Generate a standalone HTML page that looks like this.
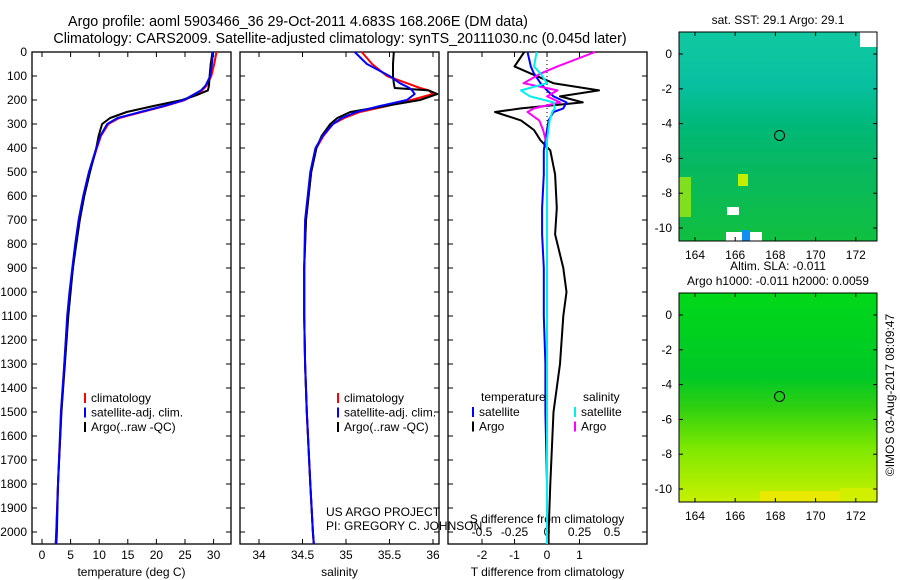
<!DOCTYPE html>
<html><head><meta charset="utf-8"><style>
body{margin:0;background:#fff;}
svg{display:block;font-family:"Liberation Sans",sans-serif;}
</style></head><body>
<svg id="chart" width="900" height="580" viewBox="0 0 900 580" xmlns="http://www.w3.org/2000/svg">
<text x="298" y="26" font-size="14.3" text-anchor="middle">Argo profile: aoml 5903466_36 29-Oct-2011 4.683S 168.206E (DM data)</text>
<text x="340" y="43" font-size="14.3" text-anchor="middle">Climatology: CARS2009. Satellite-adjusted climatology: synTS_20111030.nc (0.045d later)</text>
<g id="maps"></g>
<g id="plots"></g>
<text transform="translate(894,395) rotate(-90)" font-size="12" text-anchor="middle">©IMOS 03-Aug-2017 08:09:47</text>
</svg>
<script>
// ---- data ----
const tempDepth  = [0,50,100,140,160,180,200,225,250,275,300,350,400,500,600,700,800,900,1000,1100,1300,1500,1800,2000,2050];
const tempArgo   = [29.8,29.5,29.3,29.2,29.0,27.0,24.5,19.5,14.8,11.9,10.5,9.9,9.5,8.4,7.4,6.6,6.0,5.4,5.0,4.6,4.0,3.4,2.8,2.6,2.5];
const tempClim   = [30.5,30.1,29.6,28.8,28.0,26.5,25.0,21.5,17.5,13.5,11.6,10.3,9.6,8.3,7.3,6.5,5.9,5.4,4.9,4.5,3.9,3.4,2.8,2.5,2.4];
const tempSat    = [29.9,29.7,29.4,28.6,27.8,26.3,24.8,21.3,17.2,13.2,11.4,10.2,9.5,8.2,7.2,6.4,5.8,5.3,4.8,4.4,3.9,3.3,2.8,2.5,2.4];
const salDepth   = [0,50,100,130,150,160,175,200,225,250,275,300,350,400,500,700,900,1100,1300,1500,1800,2000,2050];
const salArgo    = [35.55,35.54,35.54,35.55,35.56,35.95,36.05,35.85,35.45,35.05,34.90,34.82,34.72,34.66,34.60,34.54,34.52,34.52,34.53,34.55,34.59,34.62,34.63];
const salClim    = [35.18,35.30,35.47,35.70,35.85,35.95,36.00,35.75,35.47,35.16,34.98,34.85,34.74,34.66,34.60,34.54,34.52,34.52,34.53,34.55,34.59,34.62,34.63];
const salSat     = [35.10,35.24,35.50,35.62,35.73,35.76,35.79,35.70,35.39,35.12,34.95,34.85,34.73,34.65,34.59,34.53,34.52,34.52,34.53,34.55,34.59,34.62,34.63];
const dDepth     = [0,60,90,130,160,185,210,235,250,285,325,368,410,510,650,760,900,1000,1100,1300,1500,1800,2000,2050];
const dTempClim  = [-0.7,-1.0,-0.5,0.2,1.6,0.4,1.1,-0.8,-1.6,-0.8,-0.4,-0.2,0.1,0.25,0.3,0.25,0.5,0.6,0.5,0.4,0.2,0.1,0.05,0.05];
const dTempSat   = [-0.6,-0.5,-0.4,-0.2,0,0.2,0.6,0.5,0.2,0.05,0,-0.05,-0.1,-0.1,-0.15,-0.15,-0.1,-0.1,-0.1,-0.05,-0.05,0,0,0];
const dSalClim   = [0.37,0.08,-0.05,-0.18,0.08,0.0,0.1,-0.1,-0.15,-0.06,-0.03,-0.01,0,0,0,0,0,0,0,0,0,0,0,0];
const dSalSat    = [-0.08,-0.1,-0.05,0.0,-0.2,-0.13,0.05,0.06,0.04,0.02,0.01,0,0,0,0,0,0,0,0,0,0,0,0,0];
const depthTicks = [0,100,200,300,400,500,600,700,800,900,1000,1100,1200,1300,1400,1500,1600,1700,1800,1900,2000];
const tempTicks  = [0,5,10,15,20,25,30];
const salTicks   = [34,34.5,35,35.5,36];
const dTTicks    = [-2,-1,0,1];
const dSTicks    = [-0.5,-0.25,0,0.25,0.5];
const lonTicks   = [164,166,168,170,172];
const latTicks   = [0,-2,-4,-6,-8,-10];

const NS="http://www.w3.org/2000/svg";
function mk(tag,attrs,parent,txt){const e=document.createElementNS(NS,tag);for(const k in attrs)e.setAttribute(k,attrs[k]);if(txt!==undefined)e.textContent=txt;parent.appendChild(e);return e;}
const plots=document.getElementById('plots');
const yD=d=>52+d*0.24;
const PT=52,PB=544;

function panel(name,x0,x1,xs,ticks,label,fmt){
  const g=mk('g',{},plots);
  
  
  const r=mk('rect',{x:x0,y:PT,width:x1-x0,height:PB-PT,fill:'none',stroke:'#000','stroke-width':1.3},g);
  
  
  ticks.forEach(t=>{const x=xs(t);
    mk('line',{x1:x,x2:x,y1:PT,y2:PT+5,stroke:'#000'},g);
    mk('line',{x1:x,x2:x,y1:PB,y2:PB-5,stroke:'#000'},g);
    const tl=mk('text',{x:x,y:559,'font-size':12,'text-anchor':'middle'},g,fmt?fmt(t):t);
    
    
  });
  depthTicks.forEach(d=>{const y=yD(d);
    mk('line',{x1:x0,x2:x0+5,y1:y,y2:y,stroke:'#000'},g);
    mk('line',{x1:x1,x2:x1-5,y1:y,y2:y,stroke:'#000'},g);
  });
  const xl=mk('text',{x:(x0+x1)/2,y:576,'font-size':12,'text-anchor':'middle'},g,label);
  
  
  return g;
}
function line(g,name,xs,vals,depths,color,w){
  const d=vals.map((v,i)=>(i?'L':'M')+xs(v).toFixed(1)+','+yD(depths[i]).toFixed(1)).join('');
  const p=mk('path',{d:d,fill:'none',stroke:color,'stroke-width':w||2,'stroke-linejoin':'round'},g);
  
  
}
function legend(g,x,y,items){
  items.forEach((it,i)=>{
    const yy=y+i*14.5;
    mk('line',{x1:x,x2:x,y1:yy-9,y2:yy+1,stroke:it[1],'stroke-width':2},g);
    const t=mk('text',{x:x+6,y:yy,'font-size':12},g,it[0]);
    
    
  });
}
depthTicks.forEach(d=>{const t=mk('text',{x:27,y:yD(d)+4,'font-size':12,'text-anchor':'end'},plots,d);
  
  });

const xT=t=>42+t*5.72;
const g1=panel('temperature-panel',32,231,xT,tempTicks,'temperature (deg C)');
line(g1,'temp-climatology',xT,tempClim,tempDepth,'#f00');
line(g1,'temp-argo',xT,tempArgo,tempDepth,'#000');
line(g1,'temp-satellite',xT,tempSat,tempDepth,'#00f');
legend(g1,85,402,[['climatology','#f00'],['satellite-adj. clim.','#00f'],['Argo(..raw -QC)','#000']]);

const xS=s=>259+(s-34)*87;
const g2=panel('salinity-panel',240,439,xS,salTicks,'salinity');
line(g2,'sal-climatology',xS,salClim,salDepth,'#f00');
line(g2,'sal-argo',xS,salArgo,salDepth,'#000');
line(g2,'sal-satellite',xS,salSat,salDepth,'#00f');
legend(g2,338,402,[['climatology','#f00'],['satellite-adj. clim.','#00f'],['Argo(..raw -QC)','#000']]);
mk('text',{x:326,y:516,'font-size':12},g2,'US ARGO PROJECT');
mk('text',{x:326,y:530,'font-size':12},g2,'PI: GREGORY C. JOHNSON');

const xDT=v=>547+v*32.5, xDS=v=>547+v*130;
const g3=panel('difference-panel',448,647,xDT,dTTicks,'T difference from climatology');
dSTicks.forEach(t=>{const tl=mk('text',{x:xDS(t),y:536,'font-size':12,'text-anchor':'middle'},g3,t);
  
  });
mk('text',{x:547,y:523,'font-size':12,'text-anchor':'middle'},g3,'S difference from climatology');
mk('line',{x1:547,x2:547,y1:PT,y2:PB,stroke:'#000','stroke-dasharray':'1,3'},g3);
line(g3,'dtemp-argo',xDT,dTempClim,dDepth,'#000');
line(g3,'dtemp-satellite',xDT,dTempSat,dDepth,'#00f');
line(g3,'dsal-argo',xDS,dSalClim,dDepth,'#f0f');
line(g3,'dsal-satellite',xDS,dSalSat,dDepth,'#0ee');
mk('text',{x:481,y:401,'font-size':12},g3,'temperature');
mk('text',{x:583,y:401,'font-size':12},g3,'salinity');
legend(g3,473,416,[['satellite','#00f'],['Argo','#000']]);
legend(g3,575,416,[['satellite','#0ee'],['Argo','#f0f']]);

const maps=document.getElementById('maps');
function map(name,y0,title,stops,patches){
  const g=mk('g',{},maps);
  
  
  const id='grad'+y0;
  const lg=mk('linearGradient',{id:id,x1:0,y1:0,x2:0,y2:1},g);
  stops.forEach(s=>mk('stop',{offset:s[0],'stop-color':s[1]},lg));
  mk('rect',{x:679,y:y0,width:198,height:209,fill:'url(#'+id+')'},g);
  patches.forEach(p=>mk('rect',{x:p[0],y:y0+p[1],width:p[2],height:p[3],fill:p[4]},g));
  mk('rect',{x:679,y:y0,width:198,height:209,fill:'none',stroke:'#000'},g);
  const lonX=l=>695+(l-164)*20.1, latY=l=>y0+22-l*17.4;
  lonTicks.forEach(l=>{mk('line',{x1:lonX(l),x2:lonX(l),y1:y0,y2:y0+4,stroke:'#000'},g);
    mk('line',{x1:lonX(l),x2:lonX(l),y1:y0+209,y2:y0+205,stroke:'#000'},g);
    mk('text',{x:lonX(l),y:y0+227,'font-size':12,'text-anchor':'middle'},g,l);});
  latTicks.forEach(l=>{mk('line',{x1:679,x2:683,y1:latY(l),y2:latY(l),stroke:'#000'},g);
    mk('line',{x1:877,x2:873,y1:latY(l),y2:latY(l),stroke:'#000'},g);
    mk('text',{x:672,y:latY(l)+4,'font-size':12,'text-anchor':'end'},g,l);});
  mk('circle',{cx:lonX(168.206),cy:latY(-4.683),r:5,fill:'none',stroke:'#000'},g);
  title.forEach((t,i)=>mk('text',{x:778,y:y0-8-(title.length-1-i)*15,'font-size':12,'text-anchor':'middle'},g,t));
}
map('sst-map',32,['sat. SST: 29.1  Argo: 29.1'],
  [[0,'#10c8a0'],[0.25,'#08c0a0'],[0.45,'#00b878'],[0.65,'#08b860'],[1,'#10c040']],
  [[679,145,12,40,'#80e020'],[738,142,10,12,'#c0f000'],[727,175,12,8,'#fff'],[726,200,36,9,'#fff'],[742,198,8,11,'#1090f0'],[860,0,17,15,'#fff']]);
map('sla-map',293,['Altim. SLA: -0.011','Argo h1000: -0.011 h2000: 0.0059'],
  [[0,'#00d818'],[0.4,'#00c828'],[0.55,'#30d010'],[0.75,'#80e800'],[1,'#c8f000']],
  [[840,195,37,14,'#d0f000'],[760,198,80,11,'#e8e800']]);
</script>
</body></html>
